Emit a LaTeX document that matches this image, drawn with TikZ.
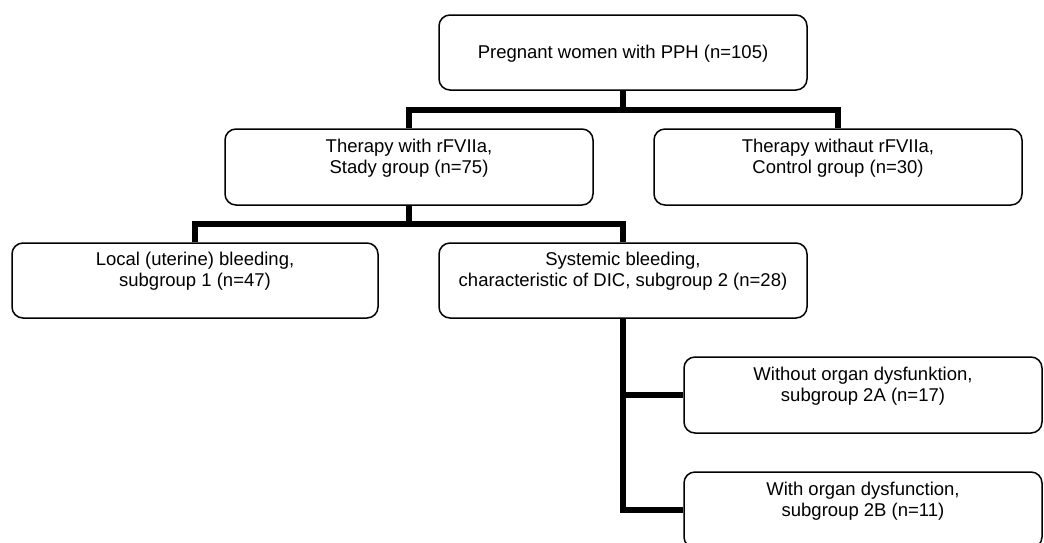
\documentclass[tikz,border=0pt]{standalone}
\usepackage{fontspec}
\setmainfont{Liberation Sans}
\newcommand\tstrut{\rule[-0.2\baselineskip]{0pt}{\baselineskip}}
\begin{document}
\begin{tikzpicture}[x=1pt,y=-1pt,
  box/.style={draw=black, line width=1.5pt, rounded corners=11pt,
    minimum width=368pt, minimum height=76pt, inner sep=0pt,
    align=center, font=\fontsize{18.5}{21.3}\selectfont},
  conn/.style={line width=6pt, draw=black, line join=miter}]
\useasboundingbox (0,0) rectangle (1044,542);
\clip (0,0) rectangle (1044,542);
\fill[white] (0,0) rectangle (1044,542);

\node[box, minimum height=75pt] (top) at (623,52.5)
  {\tstrut Pregnant women with PPH (n=105)};
\node[box] (b2) at (409,167)
  {\tstrut Therapy with rFVIIa,\\Stady group (n=75)\\\tstrut};
\node[box] (b3) at (838,167)
  {\tstrut Therapy withaut rFVIIa,\\Control group (n=30)\\\tstrut};
\node[box, minimum width=366pt, minimum height=75pt] (b4) at (195,280.5)
  {\tstrut Local (uterine) bleeding,\\subgroup 1 (n=47)\\\tstrut};
\node[box, minimum height=75pt] (b5) at (623,280.5)
  {\tstrut Systemic bleeding,\\characteristic of DIC, subgroup 2 (n=28)\\\tstrut};
\node[box, minimum width=358pt] (b2a) at (863,395)
  {\tstrut Without organ dysfunktion,\\subgroup 2A (n=17)\\\tstrut};
\node[box, minimum width=358pt] (b2b) at (863,510)
  {\tstrut With organ dysfunction,\\subgroup 2B (n=11)\\\tstrut};

\coordinate (h1) at (623,110);
\coordinate (h2) at (409,224);
\draw[conn] (b2.north) |- (h1) -| (b3.north);
\draw[conn] (top.south) -- (h1);
\draw[conn] (b4.north) |- (h2) -| (b5.north);
\draw[conn] (b2.south) -- (h2);
\draw[conn] (b5.south) |- (b2b.west);
\draw[conn] (b5.south |- b2a.west) -- (b2a.west);
\end{tikzpicture}
\end{document}
